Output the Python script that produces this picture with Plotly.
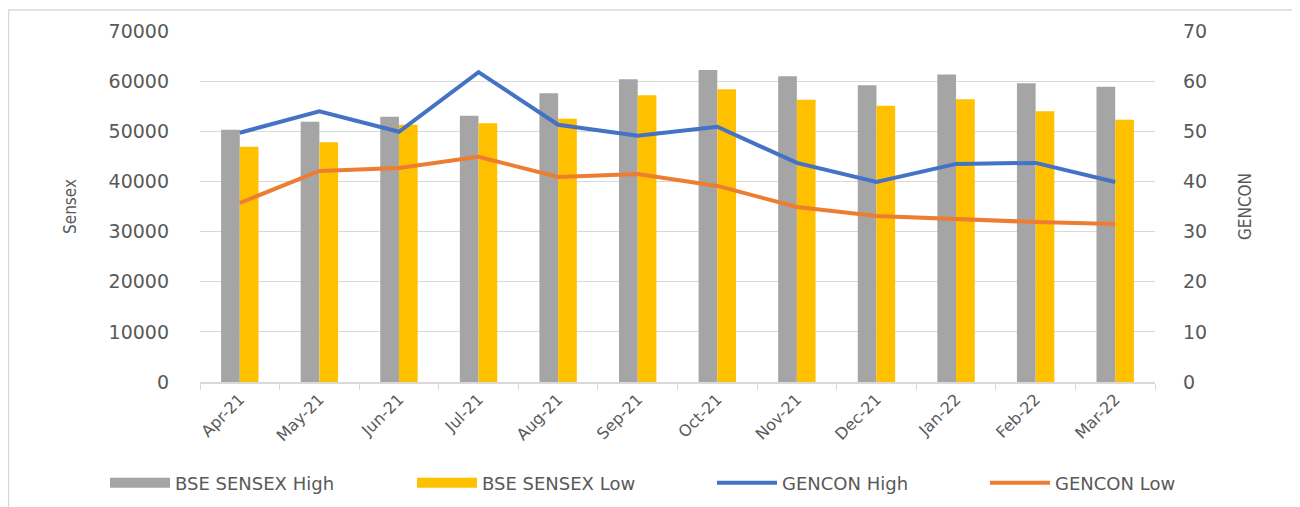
import plotly.graph_objects as go

months = ["Apr-21", "May-21", "Jun-21", "Jul-21", "Aug-21", "Sep-21",
          "Oct-21", "Nov-21", "Dec-21", "Jan-22", "Feb-22", "Mar-22"]
sensex_high = [50300, 51900, 52900, 53100, 57600, 60400, 62200, 61000, 59200, 61300, 59600, 58900]
sensex_low = [46900, 47800, 51300, 51600, 52500, 57200, 58400, 56300, 55100, 56400, 54000, 52300]
gencon_high = [49.7, 54.0, 49.9, 61.8, 51.3, 49.1, 50.9, 43.7, 39.9, 43.5, 43.7, 39.9]
gencon_low = [35.7, 42.1, 42.7, 44.9, 40.9, 41.5, 39.1, 34.9, 33.1, 32.5, 31.9, 31.5]

FONT = "DejaVu Sans"
TXT = "#595959"
GRID = "#D9D9D9"
C_GRAY, C_YEL, C_BLUE, C_ORG = "#A5A5A5", "#FFC000", "#4472C4", "#ED7D31"

# page has an 8px body margin; figure is placed at (8, 8)
OFF = 8
W, H = 1292, 499
L, R, T, B = 200 - OFF, 145, 31 - OFF, 125
pw = W - L - R
ph = H - T - B

def px(x):
    return (x - OFF - L) / pw

def py(y):
    return (H - B - (y - OFF)) / ph

fig = go.Figure()
fig.add_trace(go.Bar(x=months, y=sensex_high, name="BSE SENSEX High", showlegend=False,
                     marker=dict(color=C_GRAY, line=dict(width=0))))
fig.add_trace(go.Bar(x=months, y=sensex_low, name="BSE SENSEX Low", showlegend=False,
                     marker=dict(color=C_YEL, line=dict(width=0))))
fig.add_trace(go.Scatter(x=months, y=gencon_high, name="GENCON High", yaxis="y2",
                         mode="lines", line=dict(color=C_BLUE, width=4), legend="legend3"))
fig.add_trace(go.Scatter(x=months, y=gencon_low, name="GENCON Low", yaxis="y2",
                         mode="lines", line=dict(color=C_ORG, width=4), legend="legend4"))
# legend swatches for the bar series (wide rectangles, as in the original)
fig.add_trace(go.Scatter(x=[None], y=[None], name="BSE SENSEX High", mode="lines",
                         line=dict(color=C_GRAY, width=14), legend="legend"))
fig.add_trace(go.Scatter(x=[None], y=[None], name="BSE SENSEX Low", mode="lines",
                         line=dict(color=C_YEL, width=14), legend="legend2"))

def leg(xpix):
    return dict(orientation="h", x=px(xpix), xanchor="left", y=py(483), yanchor="middle",
                font=dict(size=18, color=TXT), itemwidth=60, bgcolor="rgba(0,0,0,0)")

fig.update_layout(
    width=W, height=H,
    margin=dict(l=L, r=R, t=T, b=B, autoexpand=False),
    paper_bgcolor="white", plot_bgcolor="white",
    barmode="group", bargap=0.53, bargroupgap=0,
    font=dict(family=FONT, color=TXT, size=17),
    xaxis=dict(
        type="category", tickangle=-45, automargin=False,
        tickfont=dict(size=16, color=TXT),
        showline=True, linecolor=GRID, linewidth=1.5,
        ticks="outside", tickson="boundaries", ticklen=6, tickcolor=GRID,
        showgrid=False,
    ),
    yaxis=dict(
        range=[0, 70000], dtick=10000, tickformat="d", automargin=False,
        showgrid=True, gridcolor=GRID, gridwidth=1,
        zeroline=False, showline=False,
        tickfont=dict(size=19, color=TXT),
        ticklabelstandoff=30,
        title=dict(text="Sensex", font=dict(size=17, color=TXT, family="DejaVu Sans Condensed"), standoff=27),
    ),
    yaxis2=dict(
        range=[0, 70], dtick=10, overlaying="y", side="right", automargin=False,
        showgrid=False, zeroline=False, showline=False,
        tickfont=dict(size=19, color=TXT),
        ticklabelstandoff=27,
        title=dict(text="GENCON", font=dict(size=17, color=TXT, family="DejaVu Sans Condensed"), standoff=32),
    ),
    legend=leg(105),
    legend2=leg(412),
    legend3=leg(712),
    legend4=leg(985),
    showlegend=True,
)

fig.add_shape(type="rect", xref="paper", yref="paper",
              x0=px(8.5), x1=px(1297), y0=py(530), y1=py(10),
              line=dict(color="#D9D9D9", width=1.5), fillcolor="rgba(0,0,0,0)", layer="below")

fig.write_html("out.html")
